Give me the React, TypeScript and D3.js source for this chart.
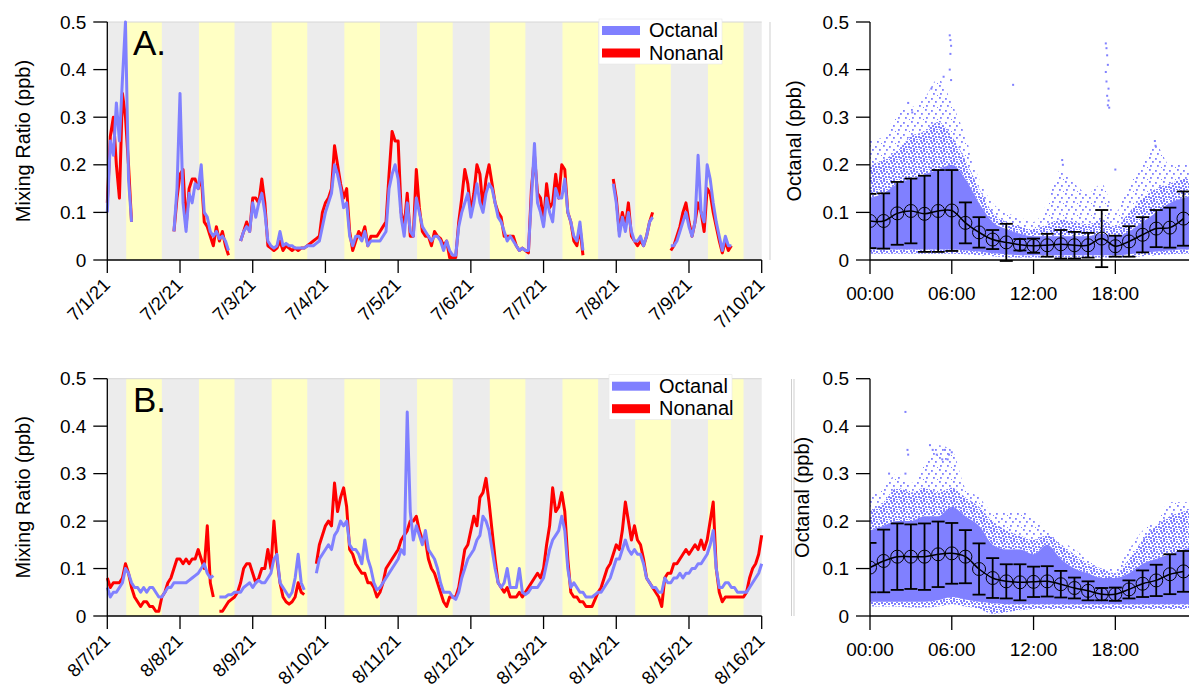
import React from 'react';
import * as d3 from 'd3';

const FONT = '"Liberation Sans", Arial, Helvetica, sans-serif';
const OCTANAL_COLOR = '#8080ff';
const NONANAL_COLOR = '#ff0000';
const NIGHT_FILL = '#ececec';
const DAY_FILL = '#ffffc4';

// Two 9-day windows, hourly samples starting at local midnight
const julyStart = new Date(2021, 6, 1);
const augustStart = new Date(2021, 7, 7);
const spanDays = 9;
// shaded daylight period (hour of day)
const daylight = [6.25, 18];

// ---- July window (ppb), one value per hour, null = no data ----
const julyOctanal = [
  0.10, 0.25, 0.22, 0.33, 0.25, 0.38, 0.50, 0.17, 0.08, null, null, null, null, null, null, null, null, null, null, null, null, null, 0.06, 0.15,
  0.35, 0.12, 0.06, 0.14, 0.12, 0.16, 0.15, 0.20, 0.10, 0.09, 0.06, 0.05, 0.06, 0.045, 0.05, 0.04, 0.02, null, null, null, 0.04, 0.06, 0.07, 0.06,
  0.12, 0.09, 0.12, 0.14, 0.10, 0.04, 0.03, 0.025, 0.03, 0.06, 0.03, 0.035, 0.03, 0.03, 0.025, 0.025, 0.025, 0.025, 0.03, 0.03, 0.03, 0.035, 0.04, 0.07,
  0.10, 0.12, 0.14, 0.20, 0.18, 0.15, 0.11, 0.12, 0.05, 0.03, 0.05, 0.05, 0.04, 0.06, 0.03, 0.04, 0.04, 0.04, 0.04, 0.05, 0.06, 0.15, 0.18, 0.20,
  0.17, 0.09, 0.05, 0.12, 0.06, 0.05, 0.13, 0.10, 0.07, 0.06, 0.05, 0.04, 0.05, 0.05, 0.04, 0.02, 0.04, 0.02, 0.01, 0.01, 0.07, 0.10, 0.12, 0.14,
  0.09, 0.12, 0.16, 0.12, 0.10, 0.14, 0.16, 0.15, 0.12, 0.09, 0.08, 0.06, 0.04, 0.05, 0.04, 0.03, 0.02, 0.025, 0.02, 0.02, 0.13, 0.245, 0.12, 0.10,
  0.07, 0.13, 0.10, 0.08, 0.15, 0.13, 0.13, 0.17, 0.10, 0.08, 0.05, 0.04, 0.08, 0.02, null, null, null, null, null, null, null, null, null, 0.16,
  0.12, 0.05, 0.09, 0.06, 0.10, 0.06, 0.04, 0.04, 0.05, 0.03, 0.05, 0.08, 0.09, null, null, null, null, null, 0.03, 0.03, 0.04, 0.06, 0.08, 0.10,
  0.07, 0.05, 0.08, 0.22, 0.10, 0.08, 0.20, 0.17, 0.12, 0.08, 0.05, 0.02, 0.05, 0.03, 0.03, null, null, null, null, null, null, null, null, null,
  null,
];
const julyNonanal = [
  0.12, 0.26, 0.30, 0.20, 0.13, 0.35, 0.30, 0.20, 0.08, null, null, null, null, null, null, null, null, null, null, null, null, null, 0.06, 0.13,
  0.18, 0.19, 0.07, 0.15, 0.17, 0.17, 0.15, 0.18, 0.08, 0.07, 0.05, 0.03, 0.07, 0.04, 0.06, 0.03, 0.01, null, null, null, 0.04, 0.06, 0.08, 0.06,
  0.13, 0.13, 0.12, 0.17, 0.12, 0.03, 0.025, 0.02, 0.025, 0.04, 0.02, 0.03, 0.025, 0.02, 0.025, 0.02, 0.025, 0.025, 0.03, 0.035, 0.04, 0.045, 0.05, 0.10,
  0.12, 0.13, 0.15, 0.24, 0.20, 0.16, 0.13, 0.15, 0.06, 0.02, 0.04, 0.06, 0.05, 0.07, 0.03, 0.05, 0.05, 0.05, 0.06, 0.07, 0.08, 0.18, 0.27, 0.25,
  0.25, 0.10, 0.07, 0.14, 0.05, 0.05, 0.19, 0.11, 0.06, 0.05, 0.05, 0.03, 0.06, 0.05, 0.045, 0.03, 0.04, 0.005, 0.005, 0.005, 0.08, 0.13, 0.19, 0.16,
  0.10, 0.14, 0.20, 0.18, 0.11, 0.17, 0.20, 0.16, 0.12, 0.10, 0.09, 0.05, 0.05, 0.05, 0.05, 0.03, 0.02, 0.025, 0.02, 0.015, 0.15, 0.22, 0.14, 0.13,
  0.08, 0.16, 0.11, 0.12, 0.18, 0.13, 0.20, 0.19, 0.10, 0.08, 0.04, 0.03, 0.07, 0.01, null, null, null, null, null, null, null, null, null, 0.17,
  0.13, 0.06, 0.10, 0.07, 0.12, 0.05, 0.04, 0.03, 0.04, 0.03, 0.05, 0.08, 0.10, null, null, null, null, null, 0.02, 0.03, 0.05, 0.07, 0.10, 0.12,
  0.08, 0.05, 0.08, 0.12, 0.10, 0.06, 0.15, 0.14, 0.10, 0.07, 0.04, 0.015, 0.04, 0.02, 0.03, null, null, null, null, null, null, null, null, null,
  null,
];

// ---- August window (ppb), one value per hour ----
const augustOctanal = [
  0.06, 0.04, 0.05, 0.05, 0.06, 0.07, 0.10, 0.09, 0.07, 0.06, 0.06, 0.05, 0.06, 0.05, 0.06, 0.06, 0.05, 0.04, 0.04, 0.05, 0.06, 0.06, 0.07, 0.07,
  0.07, 0.07, 0.07, 0.075, 0.08, 0.085, 0.09, 0.10, 0.11, 0.09, 0.08, 0.085, null, 0.04, 0.04, 0.04, 0.045, 0.045, 0.05, 0.05, 0.05, 0.06, 0.065, 0.07,
  0.06, 0.07, 0.075, 0.07, 0.07, 0.08, 0.09, 0.12, 0.13, 0.07, 0.06, 0.05, 0.04, 0.05, 0.08, 0.13, 0.07, 0.055, null, null, null, 0.09, 0.12, 0.13,
  0.14, 0.15, 0.14, 0.17, 0.18, 0.20, 0.19, 0.20, 0.15, 0.14, 0.14, 0.13, 0.11, 0.16, 0.12, 0.10, 0.07, 0.055, 0.06, 0.07, 0.08, 0.09, 0.10, 0.11,
  0.12, 0.14, 0.13, 0.43, 0.22, 0.16, 0.19, 0.17, 0.15, 0.18, 0.14, 0.13, 0.12, 0.10, 0.07, 0.05, 0.05, 0.05, 0.04, 0.035, 0.05, 0.08, 0.10, 0.12,
  0.13, 0.14, 0.16, 0.17, 0.21, 0.20, 0.18, 0.14, 0.10, 0.07, 0.06, 0.07, 0.10, 0.06, 0.06, 0.06, 0.10, 0.05, 0.045, 0.05, 0.06, 0.06, 0.06, 0.07,
  0.08, 0.11, 0.14, 0.16, 0.17, 0.18, 0.21, 0.18, 0.10, 0.06, 0.07, 0.06, 0.05, 0.05, 0.04, 0.04, 0.04, 0.045, 0.05, 0.05, 0.06, 0.07, 0.08, 0.10,
  0.12, 0.12, 0.14, 0.16, 0.14, 0.13, 0.14, 0.13, 0.13, 0.11, 0.08, 0.07, 0.06, 0.06, 0.05, 0.05, 0.08, 0.07, 0.07, 0.08, 0.08, 0.09, 0.08, 0.09,
  0.09, 0.10, 0.10, 0.11, 0.11, 0.12, 0.13, 0.15, 0.18, 0.10, 0.06, 0.06, 0.07, 0.07, 0.06, 0.06, 0.05, 0.05, 0.05, 0.05, 0.06, 0.07, 0.08, 0.09,
  0.11,
];
const augustNonanal = [
  0.08, 0.06, 0.07, 0.07, 0.07, 0.08, 0.11, 0.09, 0.06, 0.04, 0.03, 0.02, 0.03, 0.03, 0.02, 0.02, 0.01, 0.01, 0.04, 0.05, 0.07, 0.08, 0.10, 0.12,
  0.12, 0.11, 0.12, 0.11, 0.12, 0.12, 0.14, 0.12, 0.10, 0.19, 0.07, 0.04, null, 0.01, 0.01, 0.02, 0.03, 0.035, 0.04, 0.05, 0.07, 0.10, 0.11, 0.11,
  0.09, 0.07, 0.08, 0.10, 0.10, 0.14, 0.10, 0.20, 0.12, 0.07, 0.04, 0.03, 0.025, 0.03, 0.04, 0.07, 0.05, 0.045, null, null, null, 0.11, 0.15, 0.17,
  0.19, 0.20, 0.19, 0.28, 0.22, 0.25, 0.27, 0.23, 0.14, 0.13, 0.11, 0.10, 0.09, 0.09, 0.07, 0.07, 0.06, 0.04, 0.05, 0.07, 0.10, 0.11, 0.12, 0.13,
  0.14, 0.16, 0.17, 0.18, 0.20, 0.20, 0.21, 0.18, 0.16, 0.16, 0.12, 0.10, 0.09, 0.07, 0.05, 0.03, 0.02, 0.04, 0.04, 0.04, 0.06, 0.10, 0.14, 0.15,
  0.18, 0.21, 0.19, 0.25, 0.26, 0.29, 0.24, 0.18, 0.12, 0.07, 0.06, 0.05, 0.06, 0.04, 0.04, 0.04, 0.05, 0.04, 0.05, 0.06, 0.07, 0.08, 0.09, 0.08,
  0.10, 0.15, 0.19, 0.27, 0.22, 0.23, 0.26, 0.22, 0.12, 0.05, 0.04, 0.04, 0.03, 0.03, 0.02, 0.02, 0.02, 0.035, 0.05, 0.06, 0.08, 0.10, 0.11, 0.13,
  0.15, 0.14, 0.18, 0.24, 0.20, 0.16, 0.19, 0.16, 0.15, 0.12, 0.08, 0.07, 0.06, 0.05, 0.04, 0.02, 0.08, 0.09, 0.09, 0.11, 0.11, 0.12, 0.13, 0.14,
  0.13, 0.14, 0.15, 0.14, 0.16, 0.14, 0.16, 0.20, 0.24, 0.10, 0.05, 0.03, 0.04, 0.04, 0.04, 0.04, 0.04, 0.04, 0.04, 0.05, 0.08, 0.10, 0.11, 0.13,
  0.17,
];

// ---- Diurnal octanal, July campaign: hourly mean and standard deviation ----
const julyHourlyMean = [0.082, 0.082, 0.098, 0.103, 0.097, 0.103, 0.104, 0.078, 0.058, 0.043, 0.037, 0.032, 0.030, 0.031, 0.033, 0.031, 0.031, 0.045, 0.029, 0.039, 0.053, 0.066, 0.068, 0.087];
const julyHourlySd = [0.057, 0.058, 0.066, 0.068, 0.080, 0.086, 0.085, 0.043, 0.032, 0.020, 0.039, 0.012, 0.015, 0.024, 0.030, 0.028, 0.026, 0.060, 0.022, 0.032, 0.037, 0.039, 0.042, 0.057];
// spread of the individual samples by hour of day (0..24)
const julyFloor = [0.013, 0.013, 0.013, 0.013, 0.013, 0.013, 0.013, 0.012, 0.010, 0.008, 0.006, 0.005, 0.005, 0.005, 0.005, 0.005, 0.005, 0.005, 0.005, 0.006, 0.008, 0.010, 0.012, 0.013, 0.013];
const julyCoreLow = [0.022, 0.022, 0.022, 0.022, 0.022, 0.022, 0.022, 0.020, 0.018, 0.014, 0.012, 0.010, 0.010, 0.010, 0.010, 0.010, 0.010, 0.010, 0.010, 0.012, 0.015, 0.018, 0.020, 0.022, 0.022];
const julyCoreHigh = [0.13, 0.14, 0.16, 0.17, 0.18, 0.19, 0.20, 0.17, 0.12, 0.08, 0.065, 0.055, 0.05, 0.05, 0.05, 0.05, 0.05, 0.055, 0.05, 0.06, 0.08, 0.10, 0.12, 0.13, 0.14];
const julyMidHigh = [0.20, 0.21, 0.23, 0.26, 0.27, 0.29, 0.26, 0.21, 0.15, 0.10, 0.08, 0.07, 0.065, 0.075, 0.085, 0.08, 0.075, 0.085, 0.07, 0.10, 0.13, 0.15, 0.16, 0.17, 0.17];
const julyOuterHigh = [0.25, 0.26, 0.31, 0.32, 0.34, 0.38, 0.33, 0.26, 0.17, 0.12, 0.10, 0.09, 0.08, 0.12, 0.19, 0.16, 0.14, 0.16, 0.10, 0.16, 0.20, 0.24, 0.20, 0.20, 0.20];
const julyOutliers = [
  [5.85, 0.472], [5.9, 0.462], [5.95, 0.45], [5.9, 0.433], [5.85, 0.40], [5.95, 0.378], [5.4, 0.385], [4.5, 0.36],
  [10.5, 0.368], [17.3, 0.455], [17.35, 0.445], [17.4, 0.43], [17.45, 0.41], [17.3, 0.395], [17.35, 0.375],
  [17.5, 0.36], [17.4, 0.345], [17.5, 0.335], [17.45, 0.325], [17.55, 0.32], [14.1, 0.21], [14.15, 0.2],
  [18.0, 0.19], [20.9, 0.25], [20.95, 0.24], [2.8, 0.33], [3.1, 0.31],
];

// ---- Diurnal octanal, August campaign ----
const augustHourlyMean = [0.102, 0.116, 0.125, 0.125, 0.125, 0.130, 0.132, 0.125, 0.099, 0.080, 0.073, 0.071, 0.072, 0.073, 0.067, 0.059, 0.053, 0.046, 0.046, 0.056, 0.068, 0.075, 0.088, 0.094];
const augustHourlySd = [0.052, 0.066, 0.070, 0.068, 0.070, 0.069, 0.064, 0.056, 0.054, 0.042, 0.036, 0.038, 0.032, 0.032, 0.028, 0.022, 0.020, 0.013, 0.014, 0.019, 0.028, 0.033, 0.042, 0.043];
const augustFloor = [0.020, 0.020, 0.020, 0.018, 0.018, 0.020, 0.025, 0.020, 0.015, 0.005, 0.008, 0.012, 0.015, 0.015, 0.015, 0.015, 0.015, 0.015, 0.015, 0.015, 0.015, 0.015, 0.015, 0.015, 0.015];
const augustCoreLow = [0.030, 0.030, 0.030, 0.030, 0.030, 0.033, 0.040, 0.035, 0.030, 0.027, 0.025, 0.025, 0.025, 0.025, 0.025, 0.025, 0.025, 0.025, 0.025, 0.025, 0.025, 0.025, 0.025, 0.025, 0.025];
const augustCoreHigh = [0.18, 0.19, 0.20, 0.20, 0.21, 0.21, 0.23, 0.21, 0.19, 0.15, 0.14, 0.14, 0.13, 0.15, 0.12, 0.10, 0.09, 0.08, 0.08, 0.09, 0.11, 0.12, 0.13, 0.14, 0.15];
const augustMidHigh = [0.22, 0.24, 0.27, 0.26, 0.27, 0.26, 0.27, 0.25, 0.23, 0.20, 0.18, 0.17, 0.16, 0.17, 0.15, 0.13, 0.11, 0.10, 0.09, 0.12, 0.16, 0.19, 0.21, 0.22, 0.23];
const augustOuterHigh = [0.25, 0.27, 0.30, 0.28, 0.32, 0.36, 0.35, 0.27, 0.25, 0.22, 0.22, 0.22, 0.21, 0.18, 0.16, 0.14, 0.12, 0.10, 0.10, 0.14, 0.18, 0.20, 0.24, 0.24, 0.24];
const augustOutliers = [
  [2.6, 0.43], [2.75, 0.35], [2.8, 0.34], [2.6, 0.30], [4.4, 0.36], [4.6, 0.35], [5.5, 0.35], [5.8, 0.34],
  [6.0, 0.345], [5.3, 0.33], [1.4, 0.30], [4.9, 0.34], [5.7, 0.33],
];

const yTickFormat = (v: number) => (v === 0 ? '0' : d3.format('.1f')(v));

type SeriesPanelProps = {
  start: Date;
  octanal: (number | null)[];
  nonanal: (number | null)[];
  top: number;
  bottom: number;
  letter: string;
  legendX: number;
  legendY: number;
};

function SeriesPanel({ start, octanal, nonanal, top, bottom, letter, legendX, legendY }: SeriesPanelProps) {
  const left = 107.3;
  const right = 761.7;
  const end = d3.timeDay.offset(start, spanDays);
  const x = d3.scaleTime().domain([start, end]).range([left, right]);
  const y = d3.scaleLinear().domain([0, 0.5]).range([bottom, top]);
  const at = (i: number) => x(d3.timeHour.offset(start, i));
  const line = d3
    .line<number | null>()
    .defined((v) => v != null)
    .x((_, i) => at(i))
    .y((v) => y(v as number));
  const days = d3.timeDay.range(start, end);
  const xTicks = x.ticks(d3.timeDay.every(1) as d3.TimeInterval);
  const fmt = d3.timeFormat('%-m/%-d/%y');
  const hourOf = (d: Date, h: number) => x(d3.timeMinute.offset(d, Math.round(h * 60)));

  return (
    <g>
      <rect x={left} y={top} width={right - left} height={bottom - top} fill={NIGHT_FILL} />
      {days.map((d, i) => (
        <rect
          key={i}
          x={hourOf(d, daylight[0])}
          y={top}
          width={hourOf(d, daylight[1]) - hourOf(d, daylight[0])}
          height={bottom - top}
          fill={DAY_FILL}
        />
      ))}
      <line x1={left} x2={right} y1={top} y2={top} stroke="#d6d6d6" strokeWidth={1} />
      <path d={line(nonanal) || ''} fill="none" stroke={NONANAL_COLOR} strokeWidth={3} strokeLinejoin="round" />
      <path d={line(octanal) || ''} fill="none" stroke={OCTANAL_COLOR} strokeWidth={3} strokeLinejoin="round" />

      <text x={133} y={top + 33} fontSize={35}>{letter}</text>

      {/* legend */}
      <rect x={legendX} y={legendY} width={123} height={45} fill="#fff" stroke="#e6e6e6" strokeWidth={0.6} />
      <rect x={legendX + 3} y={legendY + 7} width={38} height={9} fill={OCTANAL_COLOR} />
      <rect x={legendX + 3} y={legendY + 29.5} width={38} height={9} fill={NONANAL_COLOR} />
      <text x={legendX + 50} y={legendY + 18} fontSize={20}>Octanal</text>
      <text x={legendX + 50} y={legendY + 40.5} fontSize={20}>Nonanal</text>

      {/* axes */}
      <line x1={left} x2={left} y1={top} y2={bottom} stroke="#000" strokeWidth={1.3} />
      <line x1={left} x2={right} y1={bottom} y2={bottom} stroke="#000" strokeWidth={1.3} />
      {y.ticks(5).map((v) => (
        <g key={v}>
          <line x1={left - 14} x2={left} y1={y(v)} y2={y(v)} stroke="#000" strokeWidth={1.3} />
          <text x={left - 21} y={y(v)} dy="0.35em" textAnchor="end" fontSize={19}>
            {yTickFormat(v)}
          </text>
        </g>
      ))}
      {xTicks.map((d, i) => (
        <g key={i}>
          <line x1={x(d)} x2={x(d)} y1={bottom} y2={bottom + 13} stroke="#000" strokeWidth={1.3} />
          <text
            transform={`translate(${x(d) + 4},${bottom + 26}) rotate(-45)`}
            textAnchor="end"
            fontSize={18.5}
          >
            {fmt(d)}
          </text>
        </g>
      ))}
      <text
        transform={`translate(23,${(top + bottom) / 2}) rotate(-90)`}
        textAnchor="middle"
        dy="0.35em"
        fontSize={20}
      >
        Mixing Ratio (ppb)
      </text>
    </g>
  );
}

type DiurnalPanelProps = {
  top: number;
  bottom: number;
  mean: number[];
  sd: number[];
  floor: number[];
  coreLow: number[];
  coreHigh: number[];
  midHigh: number[];
  outerHigh: number[];
  outliers: number[][];
  clipId: string;
  titleX: number;
};

function DiurnalPanel(p: DiurnalPanelProps) {
  const left = 870;
  const x = d3.scaleLinear().domain([0, 24]).range([left, left + 24 * 13.63]);
  const y = d3.scaleLinear().domain([0, 0.5]).range([p.bottom, p.top]);
  const hrs = d3.range(p.floor.length);
  const band = (lo: number[], hi: number[]) =>
    d3
      .area<number>()
      .x((h) => x(h))
      .y0((h) => y(lo[h]))
      .y1((h) => y(hi[h]))
      .curve(d3.curveMonotoneX)(hrs) || '';
  const meanPath =
    d3
      .line<number>()
      .x((_, i) => x(i))
      .y((v) => y(v))
      .curve(d3.curveCatmullRom.alpha(0.5))(p.mean) || '';
  const cap = 6.5;

  return (
    <g>
      <clipPath id={p.clipId}>
        <rect x={left} y={p.top - 4} width={1189 - left} height={p.bottom - p.top + 14} />
      </clipPath>
      <g clipPath={`url(#${p.clipId})`}>
        <path d={band(p.midHigh, p.outerHigh)} fill="url(#speckSparse)" />
        <path d={band(p.coreHigh, p.midHigh)} fill="url(#speckDense)" />
        <path d={band(p.floor, p.coreLow)} fill="url(#speckDense)" />
        <path d={band(p.coreLow, p.coreHigh)} fill={OCTANAL_COLOR} />
        {p.outliers.map(([h, v], i) => (
          <rect key={i} x={x(h) - 1} y={y(v) - 1} width={2} height={2} fill={OCTANAL_COLOR} />
        ))}
        <path d={meanPath} fill="none" stroke="#000" strokeWidth={1.5} />
        {p.mean.map((m, i) => (
          <g key={i}>
            <line x1={x(i)} x2={x(i)} y1={y(m - p.sd[i])} y2={y(m + p.sd[i])} stroke="#000" strokeWidth={1.8} />
            <line x1={x(i) - cap} x2={x(i) + cap} y1={y(m + p.sd[i])} y2={y(m + p.sd[i])} stroke="#000" strokeWidth={1.8} />
            <line x1={x(i) - cap} x2={x(i) + cap} y1={y(m - p.sd[i])} y2={y(m - p.sd[i])} stroke="#000" strokeWidth={1.8} />
            <circle cx={x(i)} cy={y(m)} r={6.5} fill="none" stroke="#000" strokeWidth={1} />
          </g>
        ))}
      </g>

      <line x1={left} x2={left} y1={p.top} y2={p.bottom} stroke="#000" strokeWidth={1.3} />
      <line x1={left} x2={1189} y1={p.bottom} y2={p.bottom} stroke="#000" strokeWidth={1.3} />
      {y.ticks(5).map((v) => (
        <g key={v}>
          <line x1={left - 14} x2={left} y1={y(v)} y2={y(v)} stroke="#000" strokeWidth={1.3} />
          <text x={left - 21} y={y(v)} dy="0.35em" textAnchor="end" fontSize={19}>
            {yTickFormat(v)}
          </text>
        </g>
      ))}
      {[0, 6, 12, 18].map((h) => (
        <g key={h}>
          <line x1={x(h)} x2={x(h)} y1={p.bottom} y2={p.bottom + 14} stroke="#000" strokeWidth={1.3} />
          <text x={x(h)} y={p.bottom + 40} textAnchor="middle" fontSize={19}>
            {`${d3.format('02d')(h)}:00`}
          </text>
        </g>
      ))}
      <text
        transform={`translate(${p.titleX},${(p.top + p.bottom) / 2}) rotate(-90)`}
        textAnchor="middle"
        dy="0.35em"
        fontSize={20}
      >
        Octanal (ppb)
      </text>
    </g>
  );
}

// irregular speckle texture for the crowded sample cloud
const denseDots = [[0, 0], [3, 0], [6, 1], [8, 3], [1, 2], [4, 3], [2, 5], [5, 6], [8, 6], [0, 7], [3, 8], [6, 9], [9, 9]];
const sparseDots = [[1, 1], [7, 2], [11, 5], [4, 5], [9, 9], [2, 9], [13, 11]];

export default function App() {
  return (
    <svg
      width={1189}
      height={688}
      style={{ position: 'absolute', left: 0, top: 0, background: '#fff' }}
      fontFamily={FONT}
    >
      <defs>
        <pattern id="speckDense" width={10} height={10} patternUnits="userSpaceOnUse">
          {denseDots.map(([dx, dy], i) => (
            <rect key={i} x={dx} y={dy} width={2} height={2} fill={OCTANAL_COLOR} />
          ))}
        </pattern>
        <pattern id="speckSparse" width={14} height={12} patternUnits="userSpaceOnUse">
          {sparseDots.map(([dx, dy], i) => (
            <rect key={i} x={dx} y={dy} width={1.8} height={1.8} fill={OCTANAL_COLOR} />
          ))}
        </pattern>
      </defs>
      <rect width={1189} height={688} fill="#fff" />

      <SeriesPanel
        start={julyStart}
        octanal={julyOctanal}
        nonanal={julyNonanal}
        top={22}
        bottom={260}
        letter="A."
        legendX={599}
        legendY={19}
      />
      <SeriesPanel
        start={augustStart}
        octanal={augustOctanal}
        nonanal={augustNonanal}
        top={378.7}
        bottom={616}
        letter="B."
        legendX={609}
        legendY={374.7}
      />

      {/* panel separators */}
      <line x1={770} x2={770} y1={22} y2={260} stroke="#cfcfcf" strokeWidth={1} />
      <line x1={791.5} x2={791.5} y1={379} y2={616} stroke="#cfcfcf" strokeWidth={1} />
      <line x1={794} x2={794} y1={379} y2={616} stroke="#cfcfcf" strokeWidth={1} />

      <DiurnalPanel
        top={22}
        bottom={260}
        mean={julyHourlyMean}
        sd={julyHourlySd}
        floor={julyFloor}
        coreLow={julyCoreLow}
        coreHigh={julyCoreHigh}
        midHigh={julyMidHigh}
        outerHigh={julyOuterHigh}
        outliers={julyOutliers}
        clipId="clipJuly"
        titleX={794}
      />
      <DiurnalPanel
        top={378.7}
        bottom={616}
        mean={augustHourlyMean}
        sd={augustHourlySd}
        floor={augustFloor}
        coreLow={augustCoreLow}
        coreHigh={augustCoreHigh}
        midHigh={augustMidHigh}
        outerHigh={augustOuterHigh}
        outliers={augustOutliers}
        clipId="clipAugust"
        titleX={802}
      />
    </svg>
  );
}
